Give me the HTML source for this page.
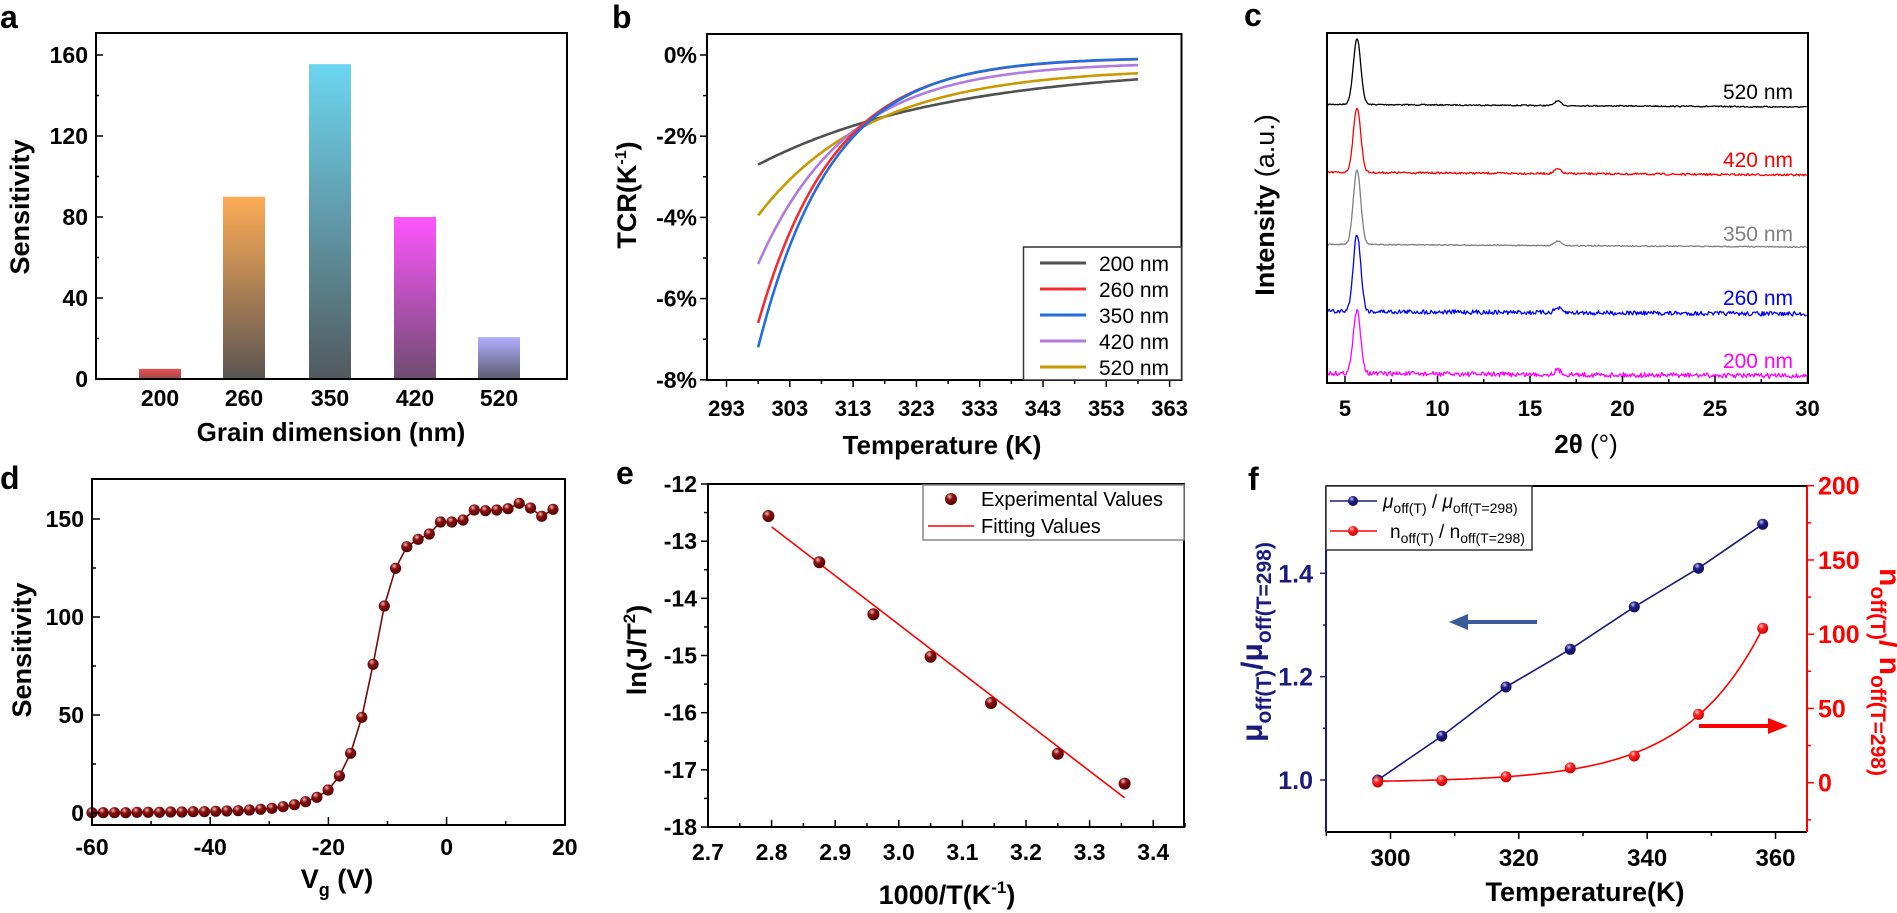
<!DOCTYPE html>
<html><head><meta charset="utf-8"><style>
html,body{margin:0;padding:0;background:#fff;}
svg{display:block;}
text{font-family:"Liberation Sans",Arial,sans-serif;}
.n{font-family:"Liberation Sans Narrow","Liberation Sans",Arial,sans-serif;}
</style></head><body>
<svg id="s" width="1897" height="913" xmlns="http://www.w3.org/2000/svg"></svg>
<script>
var o=[];
function L(x1,y1,x2,y2,c,w){o.push('<line x1="'+x1+'" y1="'+y1+'" x2="'+x2+'" y2="'+y2+'" stroke="'+(c||'#000')+'" stroke-width="'+(w||1.5)+'"/>');}
function T(x,y,s,fs,anc,opt){opt=opt||{};o.push('<text x="'+x+'" y="'+y+'" font-size="'+fs+'" text-anchor="'+(anc||'start')+'"'+(opt.b!==false?' font-weight="bold"':'')+(opt.cls?' class="'+opt.cls+'"':'')+' fill="'+(opt.c||'#000')+'"'+(opt.tr?' transform="'+opt.tr+'"':'')+'>'+s+'</text>');}
function R(x,y,w,h,st,fill,sw){o.push('<rect x="'+x+'" y="'+y+'" width="'+w+'" height="'+h+'" fill="'+(fill||'none')+'" stroke="'+(st||'#000')+'" stroke-width="'+(sw||2)+'"/>');}
function P(pts,c,w){o.push('<polyline fill="none" stroke="'+c+'" stroke-width="'+w+'" stroke-linejoin="round" points="'+pts.map(function(p){return p[0].toFixed(1)+','+p[1].toFixed(1)}).join(' ')+'"/>');}
function C(x,y,r,g){o.push('<circle cx="'+x.toFixed(1)+'" cy="'+y.toFixed(1)+'" r="'+r+'" fill="url(#'+g+')"/>');}
var defs='<defs>'+
'<radialGradient id="gd" cx="0.38" cy="0.3" r="0.75"><stop offset="0" stop-color="#f0c0c0"/><stop offset="0.35" stop-color="#8c1010"/><stop offset="1" stop-color="#4a0000"/></radialGradient>'+
'<radialGradient id="gb" cx="0.38" cy="0.3" r="0.75"><stop offset="0" stop-color="#c8c8f0"/><stop offset="0.35" stop-color="#20208c"/><stop offset="1" stop-color="#0a0a50"/></radialGradient>'+
'<radialGradient id="gr" cx="0.38" cy="0.3" r="0.75"><stop offset="0" stop-color="#ffd0d0"/><stop offset="0.35" stop-color="#ff2020"/><stop offset="1" stop-color="#c00000"/></radialGradient>';
var bc=[['#ea5050','#a04848'],['#feac56','#5c5552'],['#6dd6f0','#525a5e'],['#ff55ff','#6e4c70'],['#b3adff','#5c5c70']];
bc.forEach(function(c,i){defs+='<linearGradient id="bg'+i+'" x1="0" y1="0" x2="0" y2="1"><stop offset="0" stop-color="'+c[0]+'"/><stop offset="1" stop-color="'+c[1]+'"/></linearGradient>';});
defs+='</defs>';
o.push(defs);
var N={cls:'n'};
T(0,28,'a',32);T(612,28,'b',32);T(1244,26,'c',32);T(0,489,'d',32);T(616,484,'e',32);T(1248,490,'f',32);

(function(){
 var ya=function(v){return 379-v*2.025;};
 var bars=[[139,5],[223,90],[309,155.5],[394,80],[478,20.7]];
 bars.forEach(function(b,i){o.push('<rect x="'+b[0]+'" y="'+ya(b[1])+'" width="42" height="'+(379-ya(b[1]))+'" fill="url(#bg'+i+')"/>');});
 R(96,33,471,346);
 for(var v=0;v<=160;v+=20){var y=ya(v);L(96,y,v%40?99:103,y);if(v%40==0)T(88,y+8,v,23,'end',N);}
 ['200','260','350','420','520'].forEach(function(s,i){T(bars[i][0]+21,406,s,23,'middle',N);});
 T(331,441,'Grain dimension (nm)',26,'middle');
 T(0,0,'Sensitivity',27,'middle',{tr:'translate(29,207) rotate(-90)'});
})();

(function(){
 var xb=function(t){return 726.5+(t-293)*6.33;}, yb=function(v){return 55-v*40.6;};
 var cs=[['#505050',-0.27,-2.43,30],['#f03030',-0.06,-6.54,12],['#1f6fe0',-0.06,-7.14,11.6],['#b07be0',-0.18,-4.97,14],['#c99a00',-0.32,-3.63,18]];
 var order=[0,4,3,1,2];
 order.forEach(function(k){var c=cs[k],pts=[];for(var t=298;t<=358.01;t+=0.5){pts.push([xb(t),yb(c[1]+c[2]*Math.exp(-(t-298)/c[3]))]);}P(pts,c[0],2.6);});
 R(707,34,474.5,346);
 for(var t=293;t<=363;t+=5){var x=xb(t);L(x,380,x,t%10==3?387:384);if((t-293)%10==0)T(x,416,t,22,'middle',N);}
 for(var v=0;v>=-8;v--){var y=yb(v);L(707,y,v%2?703:700,y);if(v%2==0)T(697,y+8,v+'%',23,'end',N);}
 T(942,454,'Temperature (K)',26,'middle');
 T(0,0,'TCR(K<tspan dy="-10" font-size="16">-1</tspan><tspan dy="10">)</tspan>',27,'middle',{tr:'translate(636,195) rotate(-90)'});
 R(1023.5,247,158,133,'#333','#fff',1.5);
 var names=['200 nm','260 nm','350 nm','420 nm','520 nm'];
 cs.forEach(function(c,i){var y=263+i*26;L(1040,y,1086,y,c[0],3);T(1099,y+8,names[i],21,'start',{b:false});});
})();

(function(){
 var xc=function(t){return 1345+(t-5)*18.5;};
 var seed=7;function rnd(){seed=(seed*16807)%2147483647;return seed/2147483647-0.5;}
 var tr=[['#000',107,66,0.6,'520 nm',91],['#ff0000',175,65,1.0,'420 nm',159],['#808080',247,75,0.5,'350 nm',233],['#0000ff',314,78,2.2,'260 nm',297],['#ff00ff',376,63,2.4,'200 nm',360]];
 tr.forEach(function(t){var pts=[];for(var th=4.05;th<=30;th+=0.05){var y=t[1]+3*(th-30)/26*0.9 - t[2]*Math.exp(-Math.pow((th-5.65)/0.2,2)/2)-4.5*Math.exp(-Math.pow((th-16.5)/0.18,2)/2)+t[3]*rnd()*2;pts.push([xc(th),y]);}P(pts,t[0],1.3);T(1793,t[5]+8,t[4],21,'end',{b:false,c:t[0]});});
 R(1327,33,481,350);
 for(var t=5;t<=30;t+=2.5){var x=xc(t);L(x,383,x,t%5?379:376);if(t%5==0)T(x,416,t,22,'middle',N);}
 T(1586,453,'2θ <tspan font-weight="normal">(°)</tspan>',26,'middle');
 T(0,0,'Intensity <tspan font-weight="normal">(a.u.)</tspan>',27,'middle',{tr:'translate(1274,205) rotate(-90)'});
})();

(function(){
 var xd=function(v){return 92+(v+60)*5.91;}, yd=function(s){return 813-s*1.96;};
 var Y=[1148,1148,1148,1148,1147,1147,1147,1146,1146,1145,1145,1144,1143,1142,1140,1138,1135,1130,1124,1115,1102,1080,1038,970,862,703,528,415,350,328,312,276,276,270,240,242,240,236,220,234,259,238];
 var pts=Y.map(function(y,i){return [xd(-60+i*78/41),430+y/3];});
 P(pts,'#7a0a0a',1.6);
 pts.forEach(function(p){C(p[0],p[1],5.6,'gd');});
 R(92,479,473,346);
 for(var v=-60;v<=20;v+=10){var x=xd(v);L(x,825,x,v%20?821:817);if(v%20==0)T(x,855,v,23,'middle',N);}
 for(var s=0;s<=150;s+=25){var y=yd(s);L(92,y,s%50?96:100,y);if(s%50==0)T(84,y+8,s,23,'end',N);}
 T(337,888,'V<tspan dy="8" font-size="18">g</tspan><tspan dy="-8"> (V)</tspan>',27,'middle');
 T(0,0,'Sensitivity',27,'middle',{tr:'translate(31,650) rotate(-90)'});
})();

(function(){
 var xe=function(u){return 708+(u-2.7)*636;}, ye=function(v){return 484+(-12-v)*57.17;};
 P([[xe(2.8),ye(-12.75)],[xe(3.355),ye(-17.49)]],'#ff0000',1.6);
 [[2.795,-12.56],[2.875,-13.37],[2.96,-14.28],[3.05,-15.02],[3.145,-15.83],[3.25,-16.72],[3.355,-17.24]].forEach(function(p){C(xe(p[0]),ye(p[1]),6,'gd');});
 R(708,484,476,343);
 for(var u=2.7;u<=3.451;u+=0.05){var x=xe(u);L(x,827,x,Math.round(u*100)%10?823:820);if(Math.round(u*100)%10==0)T(x,860,u.toFixed(1),23,'middle',N);}
 for(var v=-12;v>=-18;v-=0.5){var y=ye(v);L(708,y,v%1?704:701,y);if(v%1==0)T(697,y+8,v,23,'end',N);}
 T(947,904,'1000/T(K<tspan dy="-11" font-size="17">-1</tspan><tspan dy="11">)</tspan>',27,'middle');
 T(0,0,'ln(J/T<tspan dy="-11" font-size="17">2</tspan><tspan dy="11">)</tspan>',27,'middle',{tr:'translate(646,650) rotate(-90)'});
 R(923,485,261,55,'#888','#fff',1.5);
 C(951,499,6,'gd');T(981,506,'Experimental Values',20,'start',{b:false});
 L(928,526,974,526,'#ff0000',1.6);T(981,533,'Fitting Values',20,'start',{b:false});
})();

(function(){
 var xf=function(t){return 1390.5+(t-300)*6.417;}, yl=function(v){return 780-(v-1)*516.7;}, yr=function(n){return 782.7-n*1.485;};
 var Ts=[298,308,318,328,338,348,358];
 var mu=[1.0,1.085,1.18,1.253,1.335,1.41,1.495];
 var nn=[0.5,1.5,4,10,18,46,104];
 P(Ts.map(function(t,i){return [xf(t),yl(mu[i])];}),'#1a1a80',1.6);
 var rp=[];for(var t=298;t<=358.01;t+=0.5){rp.push([xf(t),yr(0.699*(Math.exp((t-298)/12)-1)+1)]);}P(rp,'#ff0000',1.6);
 Ts.forEach(function(t,i){C(xf(t),yl(mu[i]),5.5,'gb');C(xf(t),yr(nn[i]),5.5,'gr');});
 L(1326,486,1807,486,'#000',2);L(1326,832,1807,832,'#000',2);
 L(1326,486,1326,832,'#1a1a80',2);L(1807,486,1807,832,'#ff0000',2);
 for(var t=290;t<=365;t+=10){var x=xf(t);L(x,832,x,t%20==0?839:836);if(t%20==0&&t>=300)T(x,866,t,24,'middle',N);}
 for(var v=1.0;v<=1.5;v+=0.1){var y=yl(v);L(1326,y,Math.round(v*10)%2?1323:1320,y,'#1a1a80',1.5);if(Math.round(v*10)%2==0)T(1313,y+9,v.toFixed(1),25,'end',{cls:'n',c:'#1a1a80'});}
 for(var n=-25;n<=200;n+=25){var y=yr(n);L(1807,y,n%50?1811:1814,y,'#ff0000',1.5);if(n%50==0&&n>=0)T(1818,y+9,n,25,'start',{cls:'n',c:'#ff0000'});}
 T(1585,901,'Temperature(K)',27,'middle',{cls:'n'});
 T(0,0,'μ<tspan dy="9" font-size="21">off(T)</tspan><tspan dy="-9">/μ</tspan><tspan dy="9" font-size="21">off(T=298)</tspan>',30,'middle',{c:'#1a1a80',tr:'translate(1262,642) rotate(-90)'});
 T(0,0,'n<tspan dy="9" font-size="21">off(T)</tspan><tspan dy="-9">/ n</tspan><tspan dy="9" font-size="21">off(T=298)</tspan>',30,'middle',{c:'#ff0000',tr:'translate(1880,672) rotate(90)'});
 L(1537,622,1462,622,'#3a5a9a',4);o.push('<polygon points="1449,622 1468,614 1468,630" fill="#3a5a9a"/>');
 L(1699,726,1772,726,'#ff0000',4);o.push('<polygon points="1788,726 1768,718 1768,734" fill="#ff0000"/>');
 R(1326,486,206,64,'#333','#fff',1.5);
 L(1330,501,1377,501,'#1a1a80',1.6);C(1353,501,5,'gb');
 T(1383,508,'<tspan font-style="italic">μ</tspan><tspan dy="5" font-size="14">off(T)</tspan><tspan dy="-5"> / </tspan><tspan font-style="italic">μ</tspan><tspan dy="5" font-size="14">off(T=298)</tspan>',19,'start',{b:false,cls:'n'});
 L(1330,531,1377,531,'#ff0000',1.6);C(1353,531,5,'gr');
 T(1390,538,'n<tspan dy="5" font-size="14">off(T)</tspan><tspan dy="-5"> / n</tspan><tspan dy="5" font-size="14">off(T=298)</tspan>',19,'start',{b:false,cls:'n'});
})();
document.getElementById('s').innerHTML=o.join('');
</script>
</body></html>
